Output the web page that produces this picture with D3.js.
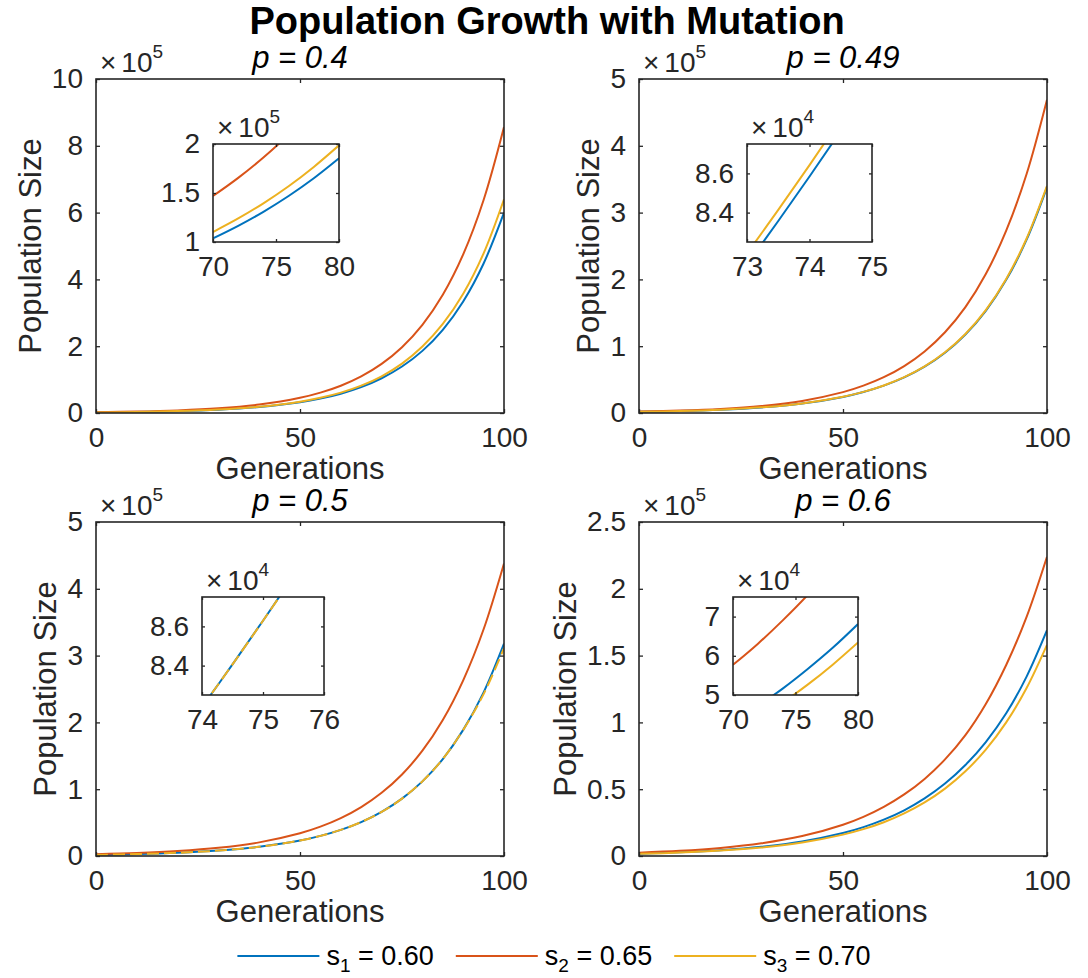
<!DOCTYPE html>
<html>
<head>
<meta charset="utf-8">
<script src="https://cdn.jsdelivr.net/npm/d3@7"></script>
<style>
  body { margin: 0; background: #fff; }
  svg { display: block; }
</style>
</head>
<body>
<div id="chart"></div>
<script>
// ---- data ----
const gens = [0, 10, 20, 30, 40, 50, 55, 60, 65, 70, 75, 80, 85, 90, 95, 100];

// p = 0.4
const blueP40   = [1700, 3100, 5600, 10000, 18000, 32200, 43100, 57800, 77500, 104000, 139100, 186000, 249200, 334000, 447700, 600000];
const redP40    = [2400, 4300, 7800, 14000, 25200, 45400, 60900, 81700, 109600, 147000, 197000, 264000, 354100, 475000, 637600, 856000];
const yellowP40 = [1800, 3200, 5800, 10500, 19000, 34000, 45500, 61000, 81900, 110000, 148000, 199000, 266500, 357000, 478000, 640000];
const insetGensP40   = [70, 72, 74, 76, 78, 80];
const insetBlueP40   = [103700, 116500, 130800, 146900, 165000, 185400];
const insetRedP40    = [146900, 165400, 186200, 209600, 235900, 265600];
const insetYellowP40 = [110200, 124000, 139500, 156900, 176600, 198600];

// p = 0.49
const blueP49   = [1720, 2910, 4940, 8380, 14200, 24100, 31400, 40900, 53200, 69300, 90200, 117500, 153000, 199300, 259500, 338000];
const redP49    = [2100, 3600, 6100, 10500, 18100, 31200, 40900, 53600, 70300, 92200, 120900, 158500, 208000, 273000, 357800, 469000];
const yellowP49 = [1730, 2930, 4970, 8440, 14300, 24300, 31600, 41200, 53600, 69800, 90900, 118300, 154100, 200700, 261200, 340000];
const insetGensP49   = [73, 73.5, 74, 74.5, 75];
const insetBlueP49   = [81360, 83570, 85840, 88170, 90560];
const insetRedP49    = [104000, 106800, 109700, 112600, 115600];
const insetYellowP49 = [81910, 84140, 86420, 88770, 91180];

// p = 0.5
const blueP50   = [1680, 2840, 4800, 8100, 13700, 23100, 30100, 39100, 50800, 66100, 85900, 111700, 145200, 188800, 245000, 318000];
const redP50    = [2640, 4400, 7340, 12200, 20400, 34000, 43900, 56700, 73200, 94600, 122100, 157600, 203600, 263000, 339400, 438000];
const yellowP50 = [1680, 2840, 4800, 8100, 13700, 23100, 30100, 39100, 50800, 66100, 85900, 111700, 145200, 188800, 242300, 311000];
const insetGensP50   = [74, 74.5, 75, 75.5, 76];
const insetBlueP50   = [81890, 84060, 86290, 88570, 90920];
const insetRedP50    = [111500, 114200, 117000, 119800, 122700];
const insetYellowP50 = [81890, 84060, 86290, 88570, 90920];

// p = 0.6
const blueP60   = [1740, 2750, 4350, 6880, 10900, 17200, 21600, 27200, 34200, 43100, 54200, 68100, 85300, 106800, 134300, 169000];
const redP60    = [2470, 3870, 6070, 9500, 14900, 23400, 29300, 36800, 46100, 57700, 72300, 90500, 113800, 143000, 179000, 224000];
const yellowP60 = [1620, 2560, 4050, 6400, 10100, 16000, 20100, 25300, 31900, 40100, 50400, 63400, 79600, 100000, 125700, 158000];
const insetGensP60   = [70, 72, 74, 76, 78, 80];
const insetBlueP60   = [43000, 47200, 51700, 56700, 62100, 68100];
const insetRedP60    = [57700, 63100, 69100, 75600, 82800, 90500];
const insetYellowP60 = [40000, 43900, 48100, 52700, 57800, 63400];

// labels and ticks
const pLabels = ["0.4", "0.49", "0.5", "0.6"];
const seriesSubs = ["1", "2", "3"];
const seriesValues = ["0.60", "0.65", "0.70"];
const genTicks = [0, 50, 100];
const popTicksP40 = [0, 2e5, 4e5, 6e5, 8e5, 10e5];
const popTicksP49 = [0, 1e5, 2e5, 3e5, 4e5, 5e5];
const popTicksP50 = [0, 1e5, 2e5, 3e5, 4e5, 5e5];
const popTicksP60 = [0, 0.5e5, 1e5, 1.5e5, 2e5, 2.5e5];
const insetGenTicksP40 = [70, 75, 80];
const insetPopTicksP40 = [1e5, 1.5e5, 2e5];
const insetGenTicksP49 = [73, 74, 75];
const insetPopTicksP49 = [84000, 86000];
const insetGenTicksP50 = [74, 75, 76];
const insetPopTicksP50 = [84000, 86000];
const insetGenTicksP60 = [70, 75, 80];
const insetPopTicksP60 = [50000, 60000, 70000];

// ---- styling ----
const seriesColors = ["#0072BD", "#D95319", "#EDB120"];
const axisColor = "#262626";
const font = '"Liberation Sans", Arial, Helvetica, sans-serif';
const tickFont = 28, labelFont = 31;

const svg = d3.select("#chart").append("svg")
  .attr("width", 1088).attr("height", 978)
  .attr("font-family", font);

svg.append("rect").attr("width", 1088).attr("height", 978).attr("fill", "#fff");

svg.append("text")
  .attr("x", 547).attr("y", 34)
  .attr("text-anchor", "middle")
  .attr("font-size", 38).attr("font-weight", "bold")
  .attr("fill", "#000")
  .text("Population Growth with Mutation");

let clipCount = 0;

// one MATLAB-like axes: curves, inward ticks on all 4 sides, box, ×10^n label
function drawAxes(g, c) {
  const x = d3.scaleLinear().domain(c.xDomain).range([c.left, c.left + c.width]);
  const y = d3.scaleLinear().domain(c.yDomain).range([c.top + c.height, c.top]);
  const div = Math.pow(10, c.exp);
  const yFmt = d => String(+(d / div).toFixed(3));

  g.append("rect")
    .attr("x", c.left).attr("y", c.top)
    .attr("width", c.width).attr("height", c.height)
    .attr("fill", "#fff");

  const clipId = "clip" + (clipCount++);
  g.append("clipPath").attr("id", clipId)
    .append("rect")
    .attr("x", c.left).attr("y", c.top)
    .attr("width", c.width).attr("height", c.height);

  const curves = g.append("g").attr("clip-path", `url(#${clipId})`);
  c.series.forEach(s => {
    const line = d3.line()
      .x((d, i) => x(s.xs[i]))
      .y(d => y(d))
      .curve(d3.curveCatmullRom.alpha(0.5));
    curves.append("path")
      .attr("d", line(s.ys))
      .attr("fill", "none")
      .attr("stroke", s.color)
      .attr("stroke-width", 2)
      .attr("stroke-dasharray", s.dash || null);
  });

  const styleAxis = sel => {
    sel.attr("font-size", tickFont).attr("font-family", font).style("color", axisColor);
    sel.select(".domain").remove();
    sel.selectAll("line").attr("stroke-width", 1.3);
  };
  const blank = () => "";

  g.append("g").attr("transform", `translate(0,${c.top + c.height})`)
    .call(d3.axisBottom(x).tickValues(c.xTicks).tickSizeInner(-c.tickLen)
      .tickSizeOuter(0).tickPadding(14).tickFormat(d3.format("d")))
    .call(styleAxis);
  g.append("g").attr("transform", `translate(0,${c.top})`)
    .call(d3.axisTop(x).tickValues(c.xTicks).tickSizeInner(-c.tickLen)
      .tickSizeOuter(0).tickFormat(blank))
    .call(styleAxis);
  const yAxisG = g.append("g").attr("transform", `translate(${c.left},0)`)
    .call(d3.axisLeft(y).tickValues(c.yTicks).tickSizeInner(-c.tickLen)
      .tickSizeOuter(0).tickPadding(13).tickFormat(yFmt))
    .call(styleAxis);
  g.append("g").attr("transform", `translate(${c.left + c.width},0)`)
    .call(d3.axisRight(y).tickValues(c.yTicks).tickSizeInner(-c.tickLen)
      .tickSizeOuter(0).tickFormat(blank))
    .call(styleAxis);

  g.append("rect")
    .attr("x", c.left).attr("y", c.top)
    .attr("width", c.width).attr("height", c.height)
    .attr("fill", "none")
    .attr("stroke", axisColor)
    .attr("stroke-width", 1.6);

  // exponent label "×10^n"
  const t = g.append("text")
    .attr("x", c.left + 4).attr("y", c.top - 7)
    .attr("font-size", tickFont).attr("fill", axisColor);
  t.append("tspan").text("\u00d7");
  t.append("tspan").attr("dx", 5).text("10");
  t.append("tspan").attr("dy", -14).attr("font-size", 19).text(c.exp);

  const tickW = d3.max(yAxisG.selectAll("text").nodes(), n => n.getComputedTextLength());
  return { x, y, tickW };
}

function seriesOf(xs, blue, red, yellow, dashTop) {
  return [
    { xs, ys: blue, color: seriesColors[0] },
    { xs, ys: red, color: seriesColors[1] },
    { xs, ys: yellow, color: seriesColors[2], dash: dashTop ? "12 5" : null }
  ];
}

const panels = [
  { p: pLabels[0], left: 96, top: 79, yMax: 10e5, yTicks: popTicksP40,
    series: seriesOf(gens, blueP40, redP40, yellowP40),
    inset: { left: 213, top: 144, width: 126, height: 98, xDomain: [70, 80], yDomain: [1e5, 2e5],
      xTicks: insetGenTicksP40, yTicks: insetPopTicksP40, exp: 5,
      series: seriesOf(insetGensP40, insetBlueP40, insetRedP40, insetYellowP40) } },
  { p: pLabels[1], left: 639, top: 79, yMax: 5e5, yTicks: popTicksP49,
    series: seriesOf(gens, blueP49, redP49, yellowP49),
    inset: { left: 747, top: 144, width: 125, height: 98, xDomain: [73, 75], yDomain: [82500, 87500],
      xTicks: insetGenTicksP49, yTicks: insetPopTicksP49, exp: 4,
      series: seriesOf(insetGensP49, insetBlueP49, insetRedP49, insetYellowP49) } },
  { p: pLabels[2], left: 96, top: 522, yMax: 5e5, yTicks: popTicksP50,
    series: seriesOf(gens, blueP50, redP50, yellowP50, true),
    inset: { left: 202, top: 597, width: 122, height: 98, xDomain: [74, 76], yDomain: [82500, 87500],
      xTicks: insetGenTicksP50, yTicks: insetPopTicksP50, exp: 4,
      series: seriesOf(insetGensP50, insetBlueP50, insetRedP50, insetYellowP50, true) } },
  { p: pLabels[3], left: 639, top: 522, yMax: 2.5e5, yTicks: popTicksP60,
    series: seriesOf(gens, blueP60, redP60, yellowP60),
    inset: { left: 733, top: 597, width: 125, height: 98, xDomain: [70, 80], yDomain: [5e4, 7.5e4],
      xTicks: insetGenTicksP60, yTicks: insetPopTicksP60, exp: 4,
      series: seriesOf(insetGensP60, insetBlueP60, insetRedP60, insetYellowP60) } }
];

const plotW = 408, plotH = 334;

panels.forEach(pn => {
  const g = svg.append("g");
  const main = drawAxes(g, {
    left: pn.left, top: pn.top, width: plotW, height: plotH,
    xDomain: [0, 100], yDomain: [0, pn.yMax],
    xTicks: genTicks, yTicks: pn.yTicks, exp: 5, tickLen: 4,
    series: pn.series
  });

  // subplot title
  g.append("text")
    .attr("x", pn.left + plotW / 2).attr("y", pn.top - 11)
    .attr("text-anchor", "middle")
    .attr("font-size", labelFont).attr("font-style", "italic")
    .attr("fill", "#000")
    .text(`p = ${pn.p}`);

  // axis labels
  g.append("text")
    .attr("x", pn.left + plotW / 2).attr("y", pn.top + plotH + 66)
    .attr("text-anchor", "middle")
    .attr("font-size", labelFont).attr("fill", axisColor)
    .text("Generations");
  const lx = pn.left - 13 - main.tickW - 11;
  g.append("text")
    .attr("transform", `translate(${lx},${pn.top + plotH / 2}) rotate(-90)`)
    .attr("text-anchor", "middle")
    .attr("font-size", labelFont).attr("fill", axisColor)
    .text("Population Size");

  drawAxes(g, Object.assign({ tickLen: 3 }, pn.inset));
});

// ---- legend (no box) ----
const legend = svg.append("g");
const lineLen = 82, legendY = 956;
let cx = 0;
seriesColors.forEach((col, i) => {
  legend.append("line")
    .attr("x1", cx).attr("x2", cx + lineLen)
    .attr("y1", legendY).attr("y2", legendY)
    .attr("stroke", col).attr("stroke-width", 2);
  const t = legend.append("text")
    .attr("x", cx + lineLen + 7).attr("y", legendY + 9)
    .attr("font-size", 27).attr("fill", "#000");
  t.append("tspan").text("s");
  t.append("tspan").attr("dy", 7).attr("font-size", 19).text(seriesSubs[i]);
  t.append("tspan").attr("dy", -7).text(` = ${seriesValues[i]}`);
  cx += lineLen + 7 + t.node().getComputedTextLength() + 22;
});
const legendW = cx - 22;
legend.attr("transform", `translate(${554 - legendW / 2},0)`);
</script>
</body>
</html>
